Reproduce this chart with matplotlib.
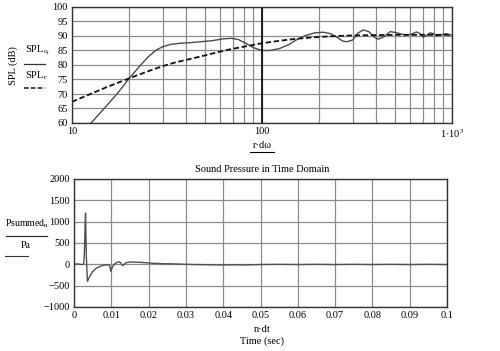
import numpy as np
import matplotlib
matplotlib.use("Agg")
import matplotlib.pyplot as plt
from matplotlib.lines import Line2D

plt.rcParams['font.family'] = ['Liberation Serif', 'DejaVu Serif']
plt.rcParams['mathtext.fontset'] = 'stix'

# top panel: SPL vs frequency
freq_o = [12.6, 15, 17.5, 20, 22.5, 25, 27.5, 30, 33, 37, 42, 47, 55, 62, 69, 75, 82, 90,
          100, 110, 124, 138, 151, 170, 190, 210, 230, 250, 265, 279, 300, 320, 341, 365,
          390, 409, 440, 472, 505, 532, 570, 610, 651, 680, 706, 735, 766, 800, 831, 870,
          900, 937, 970, 1000]
spl_o = [60, 65.5, 70.5, 75.4, 79.3, 82.6, 85.0, 86.3, 87.1, 87.5, 87.7, 88.0, 88.4, 89.0,
         89.2, 88.8, 87.5, 86.0, 85.0, 85.0, 85.7, 87.0, 88.6, 90.2, 91.1, 91.3, 90.8, 89.4,
         88.3, 88.0, 88.6, 91.0, 92.1, 91.5, 89.6, 88.9, 89.8, 91.5, 91.2, 90.8, 90.3, 90.6,
         91.4, 90.8, 89.6, 90.2, 91.1, 90.8, 90.0, 90.3, 90.6, 90.8, 90.4, 90.3]
freq_r = [10, 12, 15, 20, 25, 30, 35, 42, 50, 60, 69, 80, 100, 125, 150, 175, 202, 250,
          300, 400, 500, 700, 1000]
spl_r = [67.3, 69.5, 72.2, 75.4, 77.8, 79.6, 80.9, 82.1, 83.3, 84.6, 85.5, 86.3, 87.5, 88.4,
         89.0, 89.4, 89.7, 90.0, 90.2, 90.3, 90.4, 90.4, 90.4]

# bottom panel: pressure in time domain
t = [0, 0.001, 0.002, 0.0026, 0.0028, 0.0030, 0.0031, 0.0033, 0.0036, 0.004, 0.0045,
     0.005, 0.006, 0.007, 0.008, 0.009, 0.0095, 0.0099, 0.0103, 0.011, 0.012, 0.0125,
     0.013, 0.0135, 0.014, 0.015, 0.017, 0.019, 0.021, 0.024, 0.027, 0.03, 0.033, 0.036,
     0.04, 0.043, 0.046, 0.05, 0.055, 0.06, 0.065, 0.07, 0.075, 0.08, 0.085, 0.09, 0.095, 0.1]
p = [0, 10, -5, 0, 300, 1000, 1200, 200, -400, -320, -240, -170, -90, -45, -20, -10, -15,
     -170, -60, 20, 60, 40, -30, 0, 40, 55, 50, 40, 25, 15, 10, 0, -5, -10, -15, -10, -15,
     -5, 0, -5, 0, -5, 0, -5, 0, -5, 0, -5]

fig = plt.figure(figsize=(5, 3.51), dpi=100)

def fx(px):
    return px / 500.0

def fy(py):
    return 1 - py / 351.0

gc = '#8c8c8c'

# ---- top axes ----
ax1 = fig.add_axes([fx(72), fy(123), fx(452 - 72), (123 - 7) / 351.0])
ax1.set_xscale('log')
ax1.set_xlim(10, 1000)
ax1.set_ylim(60, 100)
ax1.plot(freq_o, spl_o, color='#4a4a4a', lw=1.0)
ax1.plot(freq_r, spl_r, color='#111111', lw=1.3, ls=(0, (3, 1.5)))
ax1.set_xticks([10, 100, 1000])
ax1.set_xticklabels(['10', '100', '1·10$^3$'])
ax1.set_xticks([v * d for d in (10, 100) for v in range(2, 10)], minor=True)
ax1.xaxis.set_minor_formatter(plt.NullFormatter())
ax1.set_yticks(np.arange(60, 101, 5))
ax1.grid(True, which='both', color=gc, lw=0.9)
ax1.axvline(100, color='black', lw=1.2)
ax1.tick_params(which='both', length=0, labelsize=7.5, pad=3)

# ---- bottom axes ----
ax2 = fig.add_axes([fx(74), fy(307), fx(447 - 74), (307 - 179) / 351.0])
ax2.set_xlim(0, 0.1)
ax2.set_ylim(-1000, 2000)
ax2.plot(t, p, color='#505050', lw=1.0)
ax2.set_xticks(np.round(np.arange(0, 0.101, 0.01), 2))
ax2.set_xticklabels(['0'] + ['%g' % v for v in np.round(np.arange(0.01, 0.101, 0.01), 2)])
ax2.set_yticks(np.arange(-1000, 2001, 500))
ax2.grid(True, color=gc, lw=0.9)
ax2.tick_params(length=0, labelsize=7.5, pad=3)

for ax in (ax1, ax2):
    for s in ax.spines.values():
        s.set_color('#333333')
        s.set_linewidth(1.0)

# ---- texts in Mathcad style ----
fig.text(fx(262), fy(146), 'r·dω', ha='center', va='center', fontsize=7.5)
fig.add_artist(Line2D([fx(250), fx(274)], [fy(152), fy(152)], color='black', lw=0.8))

fig.text(fx(13), fy(66), 'SPL (dB)', rotation=90, ha='center', va='center', fontsize=7.5)
fig.text(fx(25), fy(50), r'SPL$_{\mathrm{o}_{\mathrm{r}}}$', ha='left', va='center', fontsize=7.5)
fig.add_artist(Line2D([fx(24), fx(45)], [fy(64), fy(64)], color='#333333', lw=0.9))
fig.text(fx(25), fy(76), r'SPL$_{\mathrm{r}}$', ha='left', va='center', fontsize=7.5)
fig.add_artist(Line2D([fx(24), fx(45)], [fy(88), fy(88)], color='#111111', lw=1.1,
                      ls=(0, (3, 1.5))))

fig.text(fx(262), fy(170), 'Sound Pressure in Time Domain', ha='center', va='center', fontsize=7.5)
fig.text(fx(27), fy(224), r'Psummed$_{\mathrm{n}}$', ha='center', va='center', fontsize=7)
fig.add_artist(Line2D([fx(6), fx(47)], [fy(236), fy(236)], color='#333333', lw=0.9))
fig.text(fx(26), fy(245), 'Pa', ha='center', va='center', fontsize=7)
fig.add_artist(Line2D([fx(5), fx(28)], [fy(256), fy(256)], color='#333333', lw=0.8))

fig.text(fx(262), fy(330), 'n·dt', ha='center', va='center', fontsize=7.5)
fig.text(fx(262), fy(341), 'Time (sec)', ha='center', va='center', fontsize=7.5)

fig.savefig('out.png', dpi=100)
